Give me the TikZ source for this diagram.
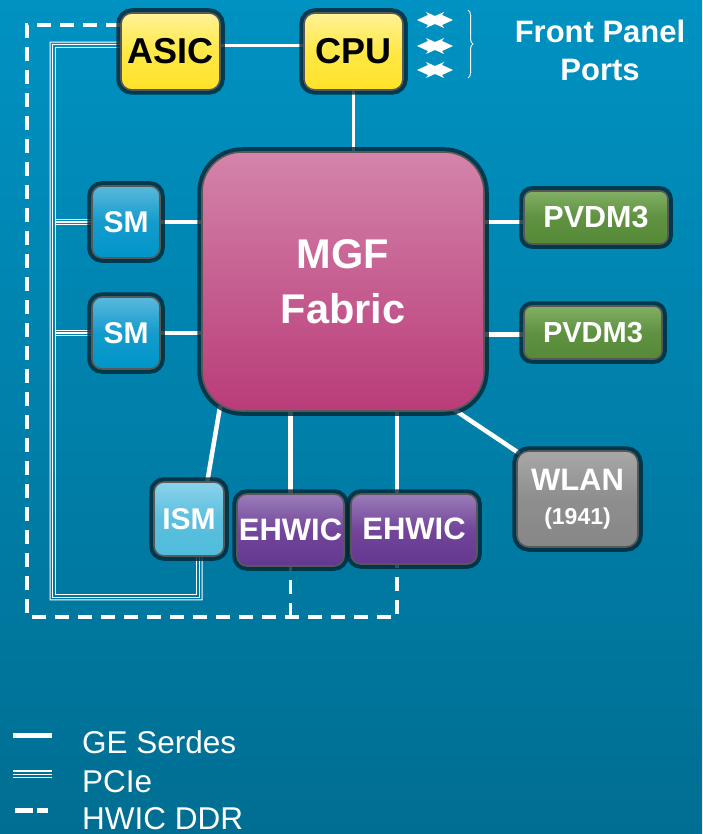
\documentclass[tikz,border=0pt]{standalone}
\usepackage{fontspec}
\setmainfont{Liberation Sans}
\usetikzlibrary{calc,decorations.pathreplacing,arrows.meta}
\pgfdeclarelayer{bg}\pgfdeclarelayer{lines}
\pgfsetlayers{bg,lines,main}
\newcommand\myfs[1]{\fontsize{#1}{#1}\selectfont}
\definecolor{bgTop}{RGB}{0,146,194}
\definecolor{bgBot}{RGB}{0,110,146}
\definecolor{ringc}{RGB}{0,38,52}
\definecolor{bord}{RGB}{88,88,88}
\definecolor{yelT}{RGB}{255,243,150}
\definecolor{yelM}{RGB}{255,232,70}
\definecolor{yelB}{RGB}{255,226,40}
\definecolor{smT}{RGB}{90,185,220}
\definecolor{smM}{RGB}{20,155,205}
\definecolor{smB}{RGB}{0,150,200}
\definecolor{mgT}{RGB}{212,132,170}
\definecolor{mgM}{RGB}{198,95,145}
\definecolor{mgB}{RGB}{185,60,120}
\definecolor{gnT}{RGB}{130,175,100}
\definecolor{gnM}{RGB}{95,145,65}
\definecolor{gnB}{RGB}{85,138,55}
\definecolor{isT}{RGB}{140,210,235}
\definecolor{isM}{RGB}{90,192,222}
\definecolor{isB}{RGB}{80,188,220}
\definecolor{puT}{RGB}{155,125,185}
\definecolor{puM}{RGB}{115,70,155}
\definecolor{puB}{RGB}{100,55,145}
\definecolor{wlT}{RGB}{168,168,168}
\definecolor{wlM}{RGB}{142,142,142}
\definecolor{wlB}{RGB}{135,135,135}
\tikzset{
  unitbox/.style={draw=bord, line width=1.6pt, inner sep=0pt, align=center, text=white,
    preaction={draw=ringc, draw opacity=0.8, line width=9.5pt}},
  shadeit/.style n args={3}{top color=#1, bottom color=#3, middle color=#2},
  yelbox/.style={unitbox, shadeit={yelT}{yelM}{yelB}, rounded corners=11pt, text=black, font=\myfs{36}\bfseries},
  smbox/.style={unitbox, shadeit={smT}{smM}{smB}, rounded corners=10pt, font=\myfs{30}\bfseries},
  mgbox/.style={unitbox, shadeit={mgT}{mgM}{mgB}, rounded corners=40pt, font=\fontsize{41.5}{55}\selectfont\bfseries},
  gnbox/.style={unitbox, shadeit={gnT}{gnM}{gnB}, rounded corners=8pt, font=\myfs{30.5}\bfseries},
  isbox/.style={unitbox, shadeit={isT}{isM}{isB}, rounded corners=10pt, font=\myfs{30}\bfseries},
  pubox/.style={unitbox, shadeit={puT}{puM}{puB}, rounded corners=10pt, font=\myfs{31}\bfseries},
  wlbox/.style={unitbox, shadeit={wlT}{wlM}{wlB}, rounded corners=12pt, font=\fontsize{31}{33}\selectfont\bfseries},
  ge/.style={draw=white, line width=4.5pt},
  gethin/.style={draw=white, line width=3pt},
  ddr/.style={draw=white, line width=3.3pt, dash pattern=on 14pt off 9pt},
  pcie/.style={draw=white, line width=1.1pt},
  legtext/.style={anchor=base west, inner sep=0pt, text=white, font=\myfs{31.5}},
  fptext/.style={anchor=base, inner sep=0pt, text=white, font=\myfs{31}\bfseries}
}
\begin{document}
\begin{tikzpicture}[x=1pt,y=-1pt]
\useasboundingbox (0,0) rectangle (702,834);
\begin{pgfonlayer}{bg}
\shade[top color=bgTop, bottom color=bgBot] (0,0) rectangle (702,834);
\end{pgfonlayer}

% units
\node[yelbox, minimum width=99pt, minimum height=77pt] (ASIC) at (170.5,51.5) {ASIC};
\node[yelbox, minimum width=99pt, minimum height=77pt] (CPU) at (353.5,51.5) {CPU};
\node[smbox, minimum width=68pt, minimum height=72pt] (SM1) at (126,222) {SM};
\node[smbox, minimum width=68pt, minimum height=72pt] (SM2) at (126,333) {SM};
\node[mgbox, minimum width=282pt, minimum height=259pt] (MGF) at (343,281.5) {MGF\\Fabric};
\node[gnbox, minimum width=144pt, minimum height=53pt] (PV1) at (596,217.5) {PVDM3};
\node[gnbox, minimum width=138pt, minimum height=53pt, font=\myfs{29}\bfseries] (PV2) at (593,332.5) {PVDM3};
\node[isbox, minimum width=70pt, minimum height=74pt] (ISM) at (189,519) {ISM};
\node[pubox, minimum width=107pt, minimum height=72pt] (EH1) at (290.5,530) {EHWIC};
\node[pubox, minimum width=126pt, minimum height=70pt] (EH2) at (414,529) {EHWIC};
\node[wlbox, minimum width=121pt, minimum height=96pt] (WLAN) at (577.5,499) {WLAN\\[1pt]{\myfs{23}(1941)}};

% helper coordinates
\coordinate (e2x) at (397,0);
\coordinate (pTL) at (52.7,44.7);
\coordinate (pBL) at (52.7,597.3);
\coordinate (pBR) at (199.5,597.3);
\coordinate (pISM) at (199.5,540);
\coordinate (pS1) at (pTL |- SM1.west);
\coordinate (pS2) at (pTL |- SM2.west);
\coordinate (dTL) at (27,25);
\coordinate (dBL) at (27,617);

\begin{pgfonlayer}{lines}
% GE Serdes
\draw[gethin] ([shift={(0,-5.5)}]ASIC.east) -- ([shift={(0,-5.5)}]CPU.west);
\draw[gethin] (CPU.south) -- (CPU.south |- MGF.north);
\draw[ge] (SM1.east) -- (SM1.east -| MGF.west);
\draw[ge] (SM2.east) -- (SM2.east -| MGF.west);
\draw[ge] ([shift={(0,4.5)}]PV1.west) -- ([shift={(0,4.5)}]PV1.west -| MGF.east);
\draw[ge] ([shift={(0,2)}]PV2.west) -- ([shift={(0,2)}]PV2.west -| MGF.east);
\draw[ge] ([shift={(19,-6)}]MGF.south west) -- ([shift={(18,2)}]ISM.north);
\draw[ge] (EH1.north |- MGF.south) -- (EH1.north);
\draw[ge] (e2x |- MGF.south) -- (e2x |- EH2.north);
\draw[ge] ([shift={(-35,-5)}]MGF.south east) -- ([shift={(3,3)}]WLAN.north west);
% PCIe
\foreach \o/\m/\a in {2.6/-2.6/-9.4, 0/0/-6.8, -2.6/2.6/-4.2} {
  \draw[pcie] ([shift={(0,\a)}]ASIC.west) -- ([shift={(\m,\m)}]pTL) -- ([shift={(\m,\o)}]pBL)
     -- ([shift={(\o,\o)}]pBR) -- ([shift={(\o,0)}]pISM);
}
\foreach \o in {-2.6,0,2.6} {
  \draw[pcie] ([shift={(2.6,\o)}]pS1) -- ([shift={(0,\o)}]SM1.west);
  \draw[pcie] ([shift={(2.6,\o)}]pS2) -- ([shift={(0,\o)}]SM2.west);
}
% HWIC DDR
\draw[ddr] ([shift={(0,-26.5)}]ASIC.west) -- (dTL) -- (dBL) -- (e2x |- dBL) -- (e2x |- EH2.south);
\draw[ddr] (EH1.south |- dBL) -- (EH1.south);
\end{pgfonlayer}

% front panel ports
\foreach \y in {20,46,70} {
  \fill[white] (417,\y) -- (428,\y-5) -- (426,\y-8) -- (435,\y-4) -- (444,\y-8) -- (442,\y-5) -- (453,\y)
     -- (442,\y+5) -- (444,\y+8) -- (435,\y+4) -- (426,\y+8) -- (428,\y+5) -- cycle;
}
\draw[white, line width=1pt, decorate, decoration={brace, amplitude=5pt}] (468,10) -- (468,78);
\node[fptext] (fp1) at (600,43) {Front Panel};
\node[fptext] (fp2) at (600,81) {Ports};

% legend
\draw[white, line width=5pt] (13,735.5) -- (52,735.5);
\foreach \y in {771,774.3,777.7} \draw[white, line width=1.3pt] (13,\y) -- (52,\y);
\draw[white, line width=5pt, dash pattern=on 18pt off 4pt] (15,810.5) -- (48,810.5);
\node[legtext] (lg1) at (82,753) {GE Serdes};
\node[legtext] (lg2) at (82,792) {PCIe};
\node[legtext] (lg3) at (82,829) {HWIC DDR};
\end{tikzpicture}
\end{document}
